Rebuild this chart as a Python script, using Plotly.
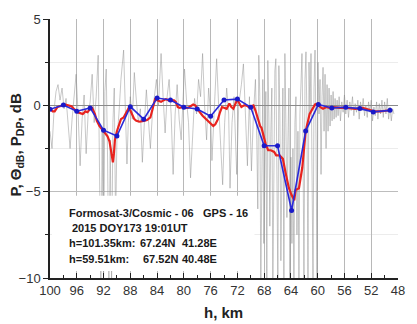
import plotly.graph_objects as go

# ---------------- data ----------------
blue_h = [100, 98, 96, 94, 92, 90, 88, 86, 84, 82, 80, 78, 76, 74, 72, 70,
          68, 66, 63.9, 61.8, 59.9, 57.9, 55.8, 53.7, 51.7, 49.2]
blue_v = [-0.23, 0.02, -0.34, -0.15, -1.44, -1.78, -0.08, -0.80, 0.42, 0.31,
          -0.11, -0.21, -0.63, 0.31, 0.36, -0.11, -2.34, -2.34, -6.09, -1.49,
          0.05, -0.15, -0.11, -0.19, -0.38, -0.29]

red_samples = [
    (100, -0.2), (99.6, -0.35), (99.3, -0.35), (98.9, -0.1), (98.5, -0.05), (97.8, 0.05),
    (97.3, 0.0), (96.8, -0.05), (96.3, -0.25), (95.9, -0.4), (95.5, -0.45), (95.1, -0.5),
    (94.7, -0.35), (94.4, -0.4), (94.0, -0.2), (93.7, -0.15), (93.3, -0.5), (93.0, -0.9),
    (92.6, -1.2), (92.2, -1.4), (91.8, -1.6), (91.4, -1.8), (91.1, -2.1), (90.9, -2.6),
    (90.7, -3.1), (90.6, -3.3), (90.45, -2.8), (90.3, -2.0), (90.0, -1.5), (89.7, -1.1),
    (89.4, -0.8), (89.0, -0.7), (88.6, -0.4), (88.3, -0.2), (88.0, -0.3), (87.8, -0.5),
    (87.4, -0.8), (87.1, -0.9), (86.6, -0.95), (86.0, -0.9), (85.5, -0.85), (85.0, -0.7),
    (84.7, -0.3), (84.3, 0.35), (84.0, 0.3), (83.7, 0.25), (83.4, 0.2), (83.0, 0.3),
    (82.7, 0.35), (82.3, 0.3), (81.9, 0.25), (81.5, 0.3), (81.2, 0.2), (80.9, -0.1),
    (80.6, -0.15), (80.2, -0.1), (79.8, -0.15), (79.4, -0.15), (79.0, -0.05), (78.6, 0.05),
    (78.3, 0.0), (78.0, -0.2), (77.6, -0.4), (77.2, -0.6), (76.8, -0.75), (76.4, -0.9),
    (76.0, -1.0), (75.6, -1.2), (75.3, -1.1), (74.9, -0.8), (74.6, -0.4), (74.3, -0.1),
    (73.9, -0.15), (73.6, -0.2), (73.2, 0.1), (72.9, -0.1), (72.6, -0.2), (72.3, 0.1),
    (72.0, 0.35), (71.7, 0.1), (71.4, -0.1), (71.0, 0.0), (70.7, 0.0), (70.3, -0.1),
    (70.0, -0.05), (69.6, 0.0), (69.3, -0.3), (69.0, -0.7), (68.6, -1.2), (68.4, -1.3),
    (68.0, -2.0), (67.8, -2.2), (67.4, -2.6), (67.0, -2.6), (66.5, -2.7), (66.2, -2.9),
    (65.7, -2.9), (65.2, -3.1), (64.8, -3.9), (64.3, -4.8), (63.9, -5.2), (63.5, -5.5),
    (63.3, -4.9), (62.8, -4.8), (62.3, -3.6), (61.8, -1.5), (61.2, -0.5), (60.8, -0.25),
    (60.4, 0.05), (60.0, 0.1), (59.6, -0.1), (59.2, -0.2), (58.7, -0.1), (58.3, -0.15),
    (57.6, -0.1), (56.7, -0.15), (55.6, -0.15), (54.4, -0.2), (53.3, -0.15), (52.4, -0.25),
    (51.6, -0.35), (50.6, -0.35), (49.5, -0.3),
]

gray_samples = [
    (100.0, -1.5), (99.7, -2.5), (99.4, -0.3), (99.1, 0.8), (98.8, 1.2), (98.5, 0.3),
    (98.2, 1.0), (97.9, -0.2), (97.6, 0.4), (97.3, -1.0), (97.0, -2.5), (96.7, -0.8),
    (96.4, 0.5), (96.1, 1.8), (95.8, -0.5), (95.5, -3.5), (95.2, -0.8), (94.9, 0.6),
    (94.6, -2.8), (94.3, -0.5), (94.0, 0.2), (93.7, 1.8), (93.4, -1.0), (93.1, 0.5),
    (92.8, 2.9), (92.6, -3.0), (92.4, -10.5), (92.2, -1.5), (92.0, -10.5), (91.8, 0.8),
    (91.6, 2.1), (91.4, -3.0), (91.2, -10.5), (91.0, -2.0), (90.8, -10.5), (90.6, -1.0),
    (90.4, 1.0), (90.2, -7.0), (90.0, -2.0), (89.7, -0.5), (89.4, 1.5), (89.0, 3.2),
    (88.7, -0.5), (88.5, -3.4), (88.3, -1.0), (88.0, 0.5), (87.7, -0.8), (87.4, 1.9),
    (87.1, 0.3), (86.8, -1.0), (86.5, -0.2), (86.2, -3.3), (85.9, -1.0), (85.6, 0.9),
    (85.3, -0.8), (85.0, -2.5), (84.7, -0.5), (84.4, 0.6), (84.1, 1.5), (83.8, 0.0),
    (83.4, 3.0), (83.1, 0.5), (82.8, -1.6), (82.5, 0.5), (82.2, 1.5), (81.9, -0.5),
    (81.6, -4.0), (81.3, -0.5), (81.0, 1.2), (80.7, -0.8), (80.4, -2.0), (80.1, 0.5),
    (79.9, 2.1), (79.6, 0.3), (79.3, -1.0), (79.0, -4.2), (78.7, -1.5), (78.4, 0.4),
    (78.1, -0.5), (77.8, 1.5), (77.5, 0.5), (77.2, 3.0), (76.9, 0.0), (76.6, -2.0),
    (76.3, 1.0), (76.0, -0.5), (75.8, -3.2), (75.5, -1.0), (75.1, 2.7), (74.8, 0.0),
    (74.5, -2.0), (74.2, -4.6), (73.9, -1.0), (73.6, 1.0), (73.3, -0.5), (73.1, -4.8),
    (72.8, -1.0), (72.5, 0.5), (72.1, -4.0), (71.8, 0.0), (71.4, 1.2), (71.1, 2.4),
    (70.8, -0.5), (70.5, -3.5), (70.2, 0.5), (69.9, -3.8), (69.6, -0.5), (69.3, 1.5),
    (69.1, -2.0), (68.95, -6.0), (68.8, 2.9), (68.65, 0.5),
    (68.5, -10.5), (68.35, -1.0), (68.2, 1.5), (68.05, -8.0), (67.9, -2.0), (67.75, 0.8),
    (67.6, -10.5), (67.45, 2.6), (67.3, -0.5), (67.15, -7.0), (67.0, -1.5), (66.85, 1.0),
    (66.7, -10.5), (66.55, -1.5), (66.4, 2.0), (66.25, 2.7), (66.1, -3.0), (65.95, -10.5),
    (65.8, 2.3), (65.65, -0.5), (65.5, -9.0), (65.35, -1.5), (65.2, 1.0), (65.05, -10.5),
    (64.9, 3.0), (64.75, -1.0), (64.6, -6.5), (64.45, -2.0), (64.3, 1.0), (64.15, -10.5),
    (64.0, -3.0), (63.85, -8.0), (63.7, -2.5), (63.55, -10.5), (63.4, -1.0), (63.25, 0.5),
    (63.1, -7.5), (62.95, -1.5), (62.8, -10.5), (62.65, -0.5), (62.5, 2.0), (62.35, 3.0),
    (62.2, -2.0), (62.05, -10.5), (61.9, 1.5), (61.75, 3.1), (61.6, -1.0), (61.45, -10.5),
    (61.3, 2.5), (61.15, -0.5), (61.0, 3.0), (60.85, -3.0), (60.7, -10.5), (60.55, 1.0),
    (60.4, 3.2), (60.25, -2.0), (60.1, -10.5), (59.95, 2.5), (59.8, -0.5), (59.65, 1.5),
    (59.5, -4.0), (59.35, 0.5), (59.2, 2.2), (59.05, -1.5), (58.9, 1.8), (58.75, -2.5),
    (58.6, 1.2), (58.45, -1.5), (58.3, 1.0), (58.15, -1.2), (58.0, 0.6), (57.85, -0.9),
    (57.7, 0.8), (57.55, -0.8), (57.4, 0.4), (57.25, -0.7), (57.1, 0.3), (56.95, -0.6),
    (56.8, 0.5), (56.6, -0.9), (56.4, 0.2), (56.2, -0.4), (56.0, 0.6), (55.8, -0.5),
    (55.6, 0.3), (55.4, -0.7), (55.2, 0.2), (55.0, -0.3), (54.8, 0.5), (54.6, -0.6),
    (54.4, 0.1), (54.2, -0.4), (54.0, 0.3), (53.8, -0.8), (53.6, 0.2), (53.4, -0.3),
    (53.2, 0.4), (53.0, -0.6), (52.8, 0.0), (52.6, -0.7), (52.4, 0.2), (52.2, -0.4),
    (52.0, 0.3), (51.8, -0.9), (51.6, -0.1), (51.4, -0.6), (51.2, 0.2), (51.0, -0.8),
    (50.8, 0.1), (50.6, -0.5), (50.4, 0.3), (50.2, -0.7), (50.0, 0.2), (49.8, -0.5),
    (49.6, 0.4), (49.4, -0.8), (49.2, -0.1), (49.0, -0.9), (48.8, -0.2), (48.6, -0.5),
]

x_ticks = [100, 96, 92, 88, 84, 80, 76, 72, 68, 64, 60, 56, 52, 48]
x_minor = [98, 94, 90, 86, 82, 78, 74, 70, 66, 62, 58, 54, 50]
y_ticks = [-10, -5, 0, 5]
y_minor = [-7.5, -2.5, 2.5]

info_lines = [
    ("Formosat-3/Cosmic - 06", "GPS - 16"),
    ("2015 DOY173 19:01UT",),
    ("h=101.35km:", "67.24N", "41.28E"),
    ("h=59.51km:", "67.52N", "40.48E"),
]

# ---------------- figure ----------------
FONT = "Liberation Sans, Arial, sans-serif"
gray_h = [p[0] for p in gray_samples]
gray_v = [p[1] for p in gray_samples]
red_h = [p[0] for p in red_samples]
red_v = [p[1] for p in red_samples]

fig = go.Figure()
fig.add_trace(go.Scatter(x=gray_h, y=gray_v, mode="lines",
                         line=dict(color="rgba(140,140,140,0.6)", width=0.8),
                         hoverinfo="skip", showlegend=False))
fig.add_trace(go.Scatter(x=red_h, y=red_v, mode="lines",
                         line=dict(color="#e8231e", width=2.2),
                         showlegend=False))
fig.add_trace(go.Scatter(x=blue_h, y=blue_v, mode="lines+markers",
                         line=dict(color="#2a2ad8", width=1.6),
                         marker=dict(color="#1a1ac8", size=5),
                         showlegend=False))

W, H = 417, 324
L, R, T, B = 50, 13, 17, 46
pw, ph = W - L - R, H - T - B


def px(x):
    return (x - L) / pw


def py(y):
    return (H - B - y) / ph


fig.update_layout(
    width=W, height=H,
    margin=dict(l=L, r=R, t=T, b=B),
    paper_bgcolor="white", plot_bgcolor="white",
    font=dict(family=FONT, color="#222", size=13),
    xaxis=dict(range=[100, 48], tickvals=x_ticks, ticks="inside", ticklen=5,
               tickcolor="#222", showline=True, linecolor="#222", linewidth=1.5,
               showgrid=True, gridcolor="#b8b8b8", gridwidth=1, zeroline=False,
               tickfont=dict(size=13, family=FONT, color="#333"),
               minor=dict(tickvals=x_minor, ticks="inside", ticklen=3,
                          tickcolor="#222", showgrid=False)),
    yaxis=dict(range=[-10, 5], tickvals=y_ticks, ticks="outside", ticklen=5,
               tickcolor="#222", showline=True, linecolor="#222", linewidth=1.5,
               showgrid=True, gridcolor="#bdbdbd", gridwidth=1,
               zeroline=True, zerolinecolor="#8a8a8a", zerolinewidth=1,
               tickfont=dict(size=13, family=FONT, color="#333"),
               minor=dict(tickvals=y_minor, ticks="outside", ticklen=3,
                          tickcolor="#222", showgrid=True, gridcolor="#ececec")),
    shapes=[dict(type="rect", xref="paper", yref="paper",
                 x0=px(52), x1=px(258), y0=py(271), y1=py(195),
                 fillcolor="white", line=dict(width=0), layer="above")],
)

ann = []
ann.append(dict(text="<b>h, km</b>", xref="paper", yref="paper", x=px(226), y=py(313),
                showarrow=False, font=dict(size=15, family=FONT, color="#222"),
                xanchor="center", yanchor="middle"))
ann.append(dict(text="<b>P, \u0398<sub>dB</sub>, P<sub>DP</sub>, dB</b>", xref="paper", yref="paper",
                x=px(15), y=py(144), textangle=-90, showarrow=False,
                font=dict(size=15, family=FONT, color="#222"),
                xanchor="center", yanchor="middle"))

row_y = [212.7, 227.5, 242.7, 259]
col_x = {0: [67, 204], 1: [70], 2: [67, 140, 182.7], 3: [67, 142.7, 182.7]}
for i, parts in enumerate(info_lines):
    for j, t in enumerate(parts):
        ann.append(dict(text="<b>" + t + "</b>", xref="paper", yref="paper",
                        x=px(col_x[i][j]), y=py(row_y[i]), showarrow=False,
                        xanchor="left", yanchor="middle",
                        font=dict(size=11, family=FONT, color="#1a1a1a")))
fig.update_layout(annotations=ann)

fig.write_html("out.html")
